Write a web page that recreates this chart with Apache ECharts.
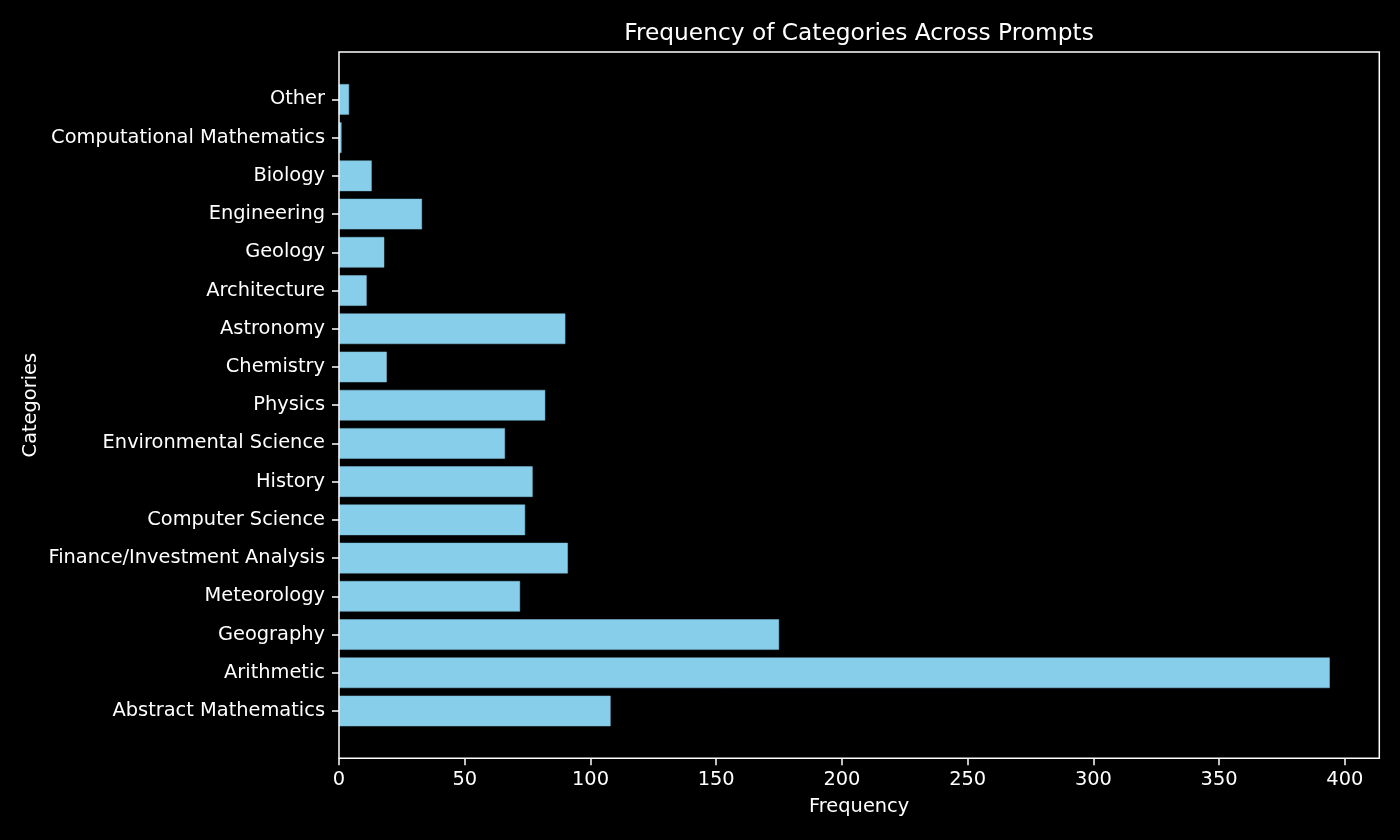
<!DOCTYPE html>
<html>
<head>
<meta charset="utf-8">
<script src="https://cdn.jsdelivr.net/npm/echarts@6/dist/echarts.min.js"></script>
<style>
html,body{margin:0;padding:0;background:#000;}
#chart{width:1400px;height:840px;}
</style>
</head>
<body>
<div id="chart"></div>
<script>
// Categories listed bottom to top
const categories = [
  'Abstract Mathematics', 'Arithmetic', 'Geography', 'Meteorology',
  'Finance/Investment Analysis', 'Computer Science', 'History',
  'Environmental Science', 'Physics', 'Chemistry', 'Astronomy',
  'Architecture', 'Geology', 'Engineering', 'Biology',
  'Computational Mathematics', 'Other'
];
const frequencies = [108, 394, 175, 72, 91, 74, 77, 66, 82, 19, 90, 11, 18, 33, 13, 1, 4];
const xTicks = [0, 50, 100, 150, 200, 250, 300, 350, 400];

const xMax = Math.max(...frequencies) * 1.05;
const font = 'DejaVu Sans';

const chart = echarts.init(document.getElementById('chart'), null, {renderer: 'canvas'});
chart.setOption({
  backgroundColor: '#000000',
  animation: false,
  title: {
    text: 'Frequency of Categories Across Prompts',
    left: 859,
    textAlign: 'center',
    top: 22,
    padding: 0,
    textStyle: {color: '#ffffff', fontFamily: font, fontSize: 23.3, fontWeight: 'normal'}
  },
  grid: [
    {left: 339, right: 20.7, top: 80.3, bottom: 109.9, show: false},
    {left: 339, right: 20.7, top: 52, bottom: 81.7, show: true,
     borderColor: '#ffffff', borderWidth: 1.5, backgroundColor: 'transparent', z: 10}
  ],
  xAxis: [
    {gridIndex: 0, type: 'value', min: 0, max: xMax, show: false, splitLine: {show: false}},
    {gridIndex: 1, type: 'value', min: 0, max: xMax,
     name: 'Frequency', nameLocation: 'middle', nameGap: 39,
     nameTextStyle: {color: '#ffffff', fontFamily: font, fontSize: 19.4},
     axisLine: {show: false},
     axisTick: {show: true, length: 7, lineStyle: {color: '#ffffff', width: 1.5}, customValues: xTicks},
     axisLabel: {color: '#ffffff', fontFamily: font, fontSize: 19.4, margin: 12, customValues: xTicks},
     splitLine: {show: false}}
  ],
  yAxis: [
    {gridIndex: 0, type: 'category', data: categories,
     axisLine: {show: false},
     axisTick: {show: true, alignWithLabel: true, length: 7, lineStyle: {color: '#ffffff', width: 1.5}},
     axisLabel: {color: '#ffffff', fontFamily: font, fontSize: 19.4, margin: 14, padding: [3, 0, 0, 0]},
     splitLine: {show: false}},
    {gridIndex: 1, type: 'value', min: 0, max: 1,
     name: 'Categories', nameLocation: 'middle', nameGap: 299, nameRotate: 90,
     nameTextStyle: {color: '#ffffff', fontFamily: font, fontSize: 19.4},
     axisLine: {show: false}, axisTick: {show: false}, axisLabel: {show: false},
     splitLine: {show: false}}
  ],
  series: [{
    type: 'bar',
    xAxisIndex: 0,
    yAxisIndex: 0,
    data: frequencies,
    barWidth: '80%',
    itemStyle: {color: '#87CEEB', borderColor: '#7fbfd8', borderWidth: 0.5}
  }]
});
</script>
</body>
</html>
